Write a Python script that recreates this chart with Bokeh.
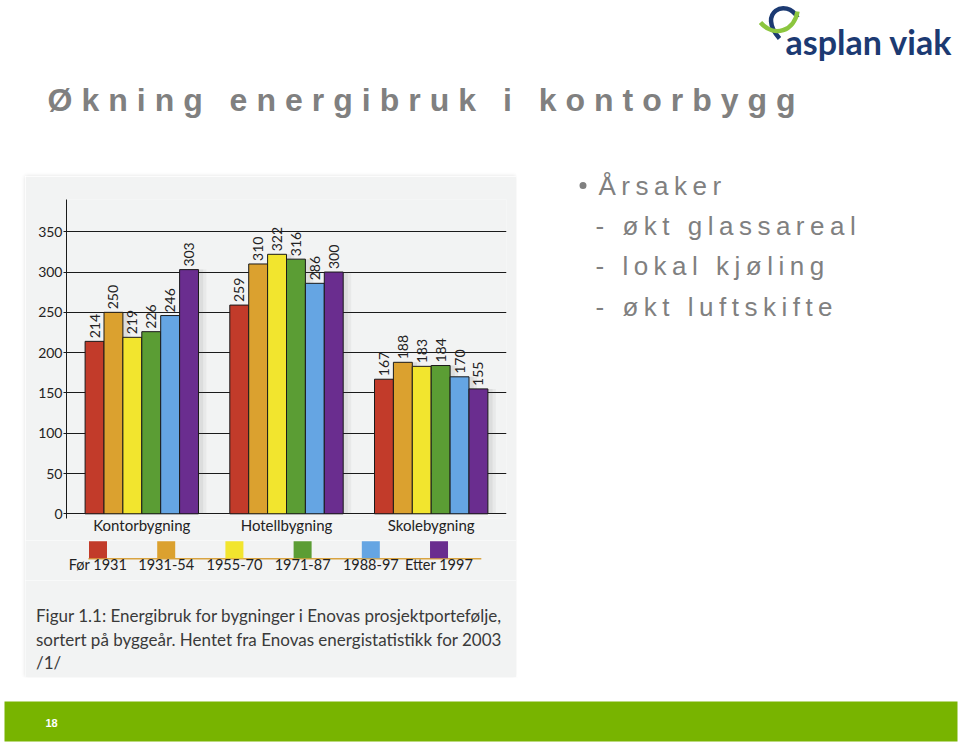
import math
from bokeh.plotting import figure
from bokeh.models import FactorRange, Range1d, FixedTicker, ColumnDataSource, Spacer
from bokeh.layouts import column, row
from bokeh.transform import dodge
from bokeh.core.properties import value
from bokeh.embed import file_html
from bokeh.resources import INLINE

# ---------------- data ----------------
title_text = "Økning energibruk i kontorbygg"
bullet_head = "Årsaker"
bullet_items = ["- økt glassareal", "- lokal kjøling", "- økt luftskifte"]
logo_text = "asplan viak"
page_number = "18"

groups = ["Kontorbygning", "Hotellbygning", "Skolebygning"]
periods = ["Før 1931", "1931-54", "1955-70", "1971-87", "1988-97", "Etter 1997"]
kontorbygning = [214, 250, 219, 226, 246, 303]
hotellbygning = [259, 310, 322, 316, 286, 300]
skolebygning = [167, 188, 183, 184, 170, 155]
y_ticks = [0, 50, 100, 150, 200, 250, 300, 350]
caption_lines = [
    "Figur 1.1: Energibruk for bygninger i Enovas prosjektportefølje,",
    "sortert på byggeår. Hentet fra Enovas energistatistikk for 2003",
    "/1/",
]

# ---------------- styles ----------------
colors = ["#c23b2a", "#dba12f", "#f2e52e", "#5b9d34", "#65a5e3", "#6a2d8f"]
BOX = "#f2f3f3"
GREY_TXT = "#808080"
NAVY = "#1c3a72"
GREEN = "#78b400"
CH_FONT = "Lato"


def deco_fig(w, h, x0, x1, y0, y1, bg="white", styles=None):
    f = figure(width=w, height=h, x_range=Range1d(x0, x1), y_range=Range1d(y1, y0),
               toolbar_location=None, output_backend="svg", min_border=0,
               x_axis_location=None, y_axis_location=None, outline_line_color=None,
               background_fill_color=bg, border_fill_color=bg)
    f.grid.visible = False
    f.frame_align = False
    if styles:
        f.styles = styles
    return f


# ---------------- logo ----------------
logo = deco_fig(210, 70, 750, 960, 0, 70)
logo.bezier(x0=[797], y0=[17], x1=[779], y1=[38], cx0=[786], cy0=[-3], cx1=[756], cy1=[12],
            line_color=NAVY, line_width=4.5)
logo.bezier(x0=[760], y0=[22], x1=[797], y1=[11], cx0=[774], cy0=[38], cx1=[794], cy1=[30],
            line_color="#8cc63f", line_width=4.5)
logo.text(x=[785], y=[40.5], text=[logo_text], text_font=value("Lato"), text_font_style="bold",
          text_font_size="34px", text_color=NAVY, text_baseline="middle")

# ---------------- title ----------------
title = deco_fig(960, 90, 0, 960, 70, 160, styles={"letter-spacing": "9px"})
title.text(x=[47], y=[99.5], text=[title_text], text_font=value("Liberation Sans"),
           text_font_style="bold", text_font_size="32px", text_color=GREY_TXT,
           text_baseline="middle")

# ---------------- bullets ----------------
bul = deco_fig(444, 517, 516, 960, 160, 677, styles={"letter-spacing": "5.5px"})
bul.scatter(x=[582.5], y=[185], size=7, marker="circle", fill_color=GREY_TXT, line_color=None)
bul.text(x=[598], y=[185], text=[bullet_head], text_font=value("Liberation Sans"),
         text_font_size="26px", text_color=GREY_TXT, text_baseline="middle")
bul.text(x=[595] * len(bullet_items), y=[225.5 + 40.3 * i for i in range(len(bullet_items))],
         text=bullet_items, text_font=value("Liberation Sans"), text_font_size="26px",
         text_color=GREY_TXT, text_baseline="middle")

# ---------------- chart ----------------
p = figure(width=491, height=364, x_range=FactorRange(*groups, range_padding=0.0136),
           y_range=Range1d(-5.8, 390), toolbar_location=None, output_backend="svg",
           min_border_left=41, min_border_right=10, min_border_top=23, min_border_bottom=22,
           background_fill_color=BOX, border_fill_color=BOX, outline_line_color=None)
p.frame_align = False
p.xgrid.visible = False
p.ygrid.ticker = FixedTicker(ticks=y_ticks)
p.ygrid.grid_line_color = "#1a1a1a"
p.ygrid.grid_line_width = 1
p.yaxis.ticker = FixedTicker(ticks=y_ticks)
p.yaxis.axis_line_color = "#1a1a1a"
p.yaxis.major_tick_line_color = "#1a1a1a"
p.yaxis.major_tick_out = 3
p.yaxis.major_tick_in = 0
p.yaxis.minor_tick_line_color = None
p.yaxis.major_label_standoff = 1
p.yaxis.major_label_text_font = CH_FONT
p.yaxis.major_label_text_font_size = "14px"
p.yaxis.major_label_text_color = "#222222"
p.xaxis.axis_line_color = None
p.xaxis.major_tick_line_color = None
p.xaxis.major_tick_out = 0
p.xaxis.major_label_standoff = -3
p.xaxis.major_label_text_font = CH_FONT
p.xaxis.major_label_text_font_size = "15px"
p.xaxis.major_label_text_color = "#222222"

bar_w = 0.1306
series = [kontorbygning, hotellbygning, skolebygning]
sources = []
for i, per in enumerate(periods):
    vals = [s[i] for s in series]
    sources.append(ColumnDataSource(dict(group=groups, value=vals, label=[str(v) for v in vals])))

# soft drop shadows behind the bars
for i, src in enumerate(sources):
    off = (i - (len(periods) - 1) / 2) * bar_w
    for dx, grow, alpha in [(0.035, 0.04, 0.06), (0.025, 0.015, 0.08)]:
        p.vbar(x=dodge("group", off + dx, range=p.x_range), top="value", width=bar_w + grow,
               source=src, fill_color="#555555", fill_alpha=alpha, line_color=None)

for i, src in enumerate(sources):
    off = (i - (len(periods) - 1) / 2) * bar_w
    p.vbar(x=dodge("group", off, range=p.x_range), top="value", width=bar_w, source=src,
           fill_color=colors[i], line_color="#1a1a1a", line_width=1)
    p.text(x=dodge("group", off, range=p.x_range), y="value", text="label", source=src,
           angle=math.pi / 2, text_align="left", text_baseline="middle", y_offset=-3,
           text_font=value(CH_FONT), text_font_size="14px", text_color="#222222")

# ---------------- legend ----------------
lg = deco_fig(491, 40, -1.063, 6.136, 0, 40, bg=BOX)
lsrc = ColumnDataSource(dict(x=list(range(len(periods))), label=periods, color=colors))
lg.segment(x0=[-0.14], y0=[18.3], x1=[len(periods) - 1 + 0.62], y1=[18.3],
           line_color="#d9a441", line_width=1.5)
lg.rect(x="x", y=9.2, width=18, height=17, width_units="screen", height_units="screen",
        fill_color="color", line_color=None, source=lsrc)
lg.text(x="x", y=24.3, text="label", source=lsrc, text_align="center", text_baseline="middle",
        text_font=value(CH_FONT), text_font_size="14.5px", text_color="#222222")

# ---------------- caption ----------------
cap = deco_fig(491, 97, 25, 516, 580, 677, bg=BOX)
cap.text(x=[35.5] * len(caption_lines), y=[614.8 + 23.8 * i for i in range(len(caption_lines))],
         text=caption_lines, text_font=value(CH_FONT), text_font_size="17px",
         text_color="#3a3a3a", text_baseline="middle")

# ---------------- footer ----------------
foot = deco_fig(960, 66, 0, 960, 677, 743)
foot.quad(left=[4], right=[957], top=[701], bottom=[741], fill_color=GREEN, line_color=None)
foot.text(x=[45], y=[722], text=[page_number], text_font=value("Liberation Sans"),
          text_font_style="bold", text_font_size="11px", text_color="white",
          text_baseline="middle")

# ---------------- layout ----------------
chart_col = column(p, lg, cap, spacing=0,
                   styles={"box-shadow": "0 0 4px rgba(0,0,0,0.12)"})
left = column(Spacer(width=516, height=16),
              row(Spacer(width=25, height=501), chart_col, spacing=0), spacing=0)
layout = column(
    row(Spacer(width=750, height=70), logo, spacing=0),
    title,
    row(left, bul, spacing=0),
    foot,
    spacing=0,
)

open("out.html", "w").write(file_html(layout, INLINE))
